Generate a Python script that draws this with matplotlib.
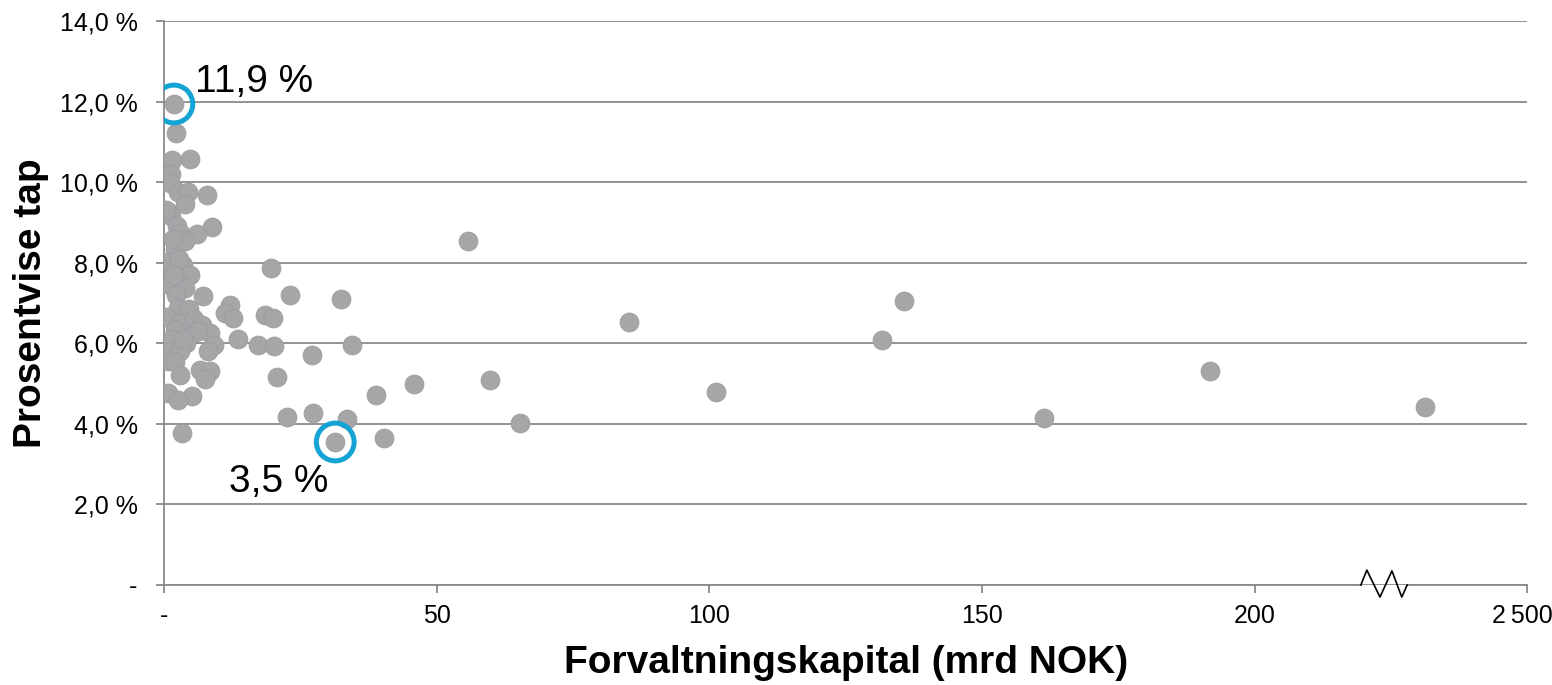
import numpy as np
import matplotlib
matplotlib.use('Agg')
import matplotlib.pyplot as plt
from matplotlib.transforms import ScaledTranslation

plt.rcParams['font.family'] = ['Liberation Sans', 'DejaVu Sans']

# forvaltningskapital (mrd NOK) and prosentvise tap (%)
kapital = [1.8, 2.2, 4.8, 0.5, 1.5, 1.2, 1.1, 2.6, 4.4, 7.9,
           3.9, 0.7, 1.3, 2.4, 3.0, 8.8, 6.1, 2.0, 3.8, 55.7,
           0.6, 3.5, 4.8, 19.6, 1.1, 3.9, 2.2, 7.2, 23.1, 32.5,
           135.7, 12.1, 2.6, 4.5, 11.2, 12.7, 18.5, 20.0, 85.3, 0.3,
           2.9, 5.5, 7.0, 5.7, 2.0, 8.4, 6.2, 1.4, 4.0, 9.2,
           8.1, 13.6, 131.7, 17.2, 20.2, 34.5, 27.1, 0.7, 3.0, 0.7,
           2.0, 6.6, 8.4, 191.8, 59.8, 7.5, 20.7, 2.9, 45.8, 0.7,
           5.1, 2.6, 101.2, 38.9, 231.2, 27.3, 22.6, 33.6, 161.4, 65.3,
           3.3, 40.3, 31.4, 0.4, 1.6, 2.8, 3.4, 1.9]
tap = [11.94, 11.22, 10.57, 10.42, 10.55, 10.2, 9.98, 9.75, 9.75, 9.68,
       9.45, 9.25, 9.15, 8.9, 8.75, 8.89, 8.72, 8.35, 8.55, 8.54,
       8.02, 7.95, 7.69, 7.87, 7.45, 7.37, 7.2, 7.18, 7.2, 7.1,
       7.05, 6.95, 6.88, 6.85, 6.75, 6.63, 6.7, 6.63, 6.53, 6.65,
       6.5, 6.6, 6.45, 6.28, 6.33, 6.25, 6.3, 6.1, 6.0, 5.97,
       5.8, 6.1, 6.08, 5.96, 5.93, 5.96, 5.71, 5.78, 5.8, 5.56,
       5.53, 5.34, 5.3, 5.31, 5.09, 5.11, 5.16, 5.21, 4.99, 4.77,
       4.68, 4.6, 4.79, 4.72, 4.42, 4.27, 4.17, 4.12, 4.14, 4.02,
       3.77, 3.65, 3.55, 9.3, 8.6, 8.1, 6.1, 7.7]

xticks = [0, 50, 100, 150, 200, 250]
xticklabels = ['-', '50', '100', '150', '200', '2\u2009500']
yticks = [0, 2, 4, 6, 8, 10, 12, 14]
yticklabels = ['-', '2,0 %', '4,0 %', '6,0 %', '8,0 %', '10,0 %', '12,0 %', '14,0 %']

axis_grey = '#8a8a8a'
dot_grey = '#a6a6a9'
ring_blue = '#14a3d4'

fig = plt.figure(figsize=(15.52, 6.85), dpi=100)
ax = fig.add_axes([0.1057, 0.146, 0.8783, 0.8233])

ax.scatter(kapital, tap, s=185, color=dot_grey, edgecolors='#9c9ca0',
           linewidths=0.6, zorder=3)

# highlight max and min
x = np.array(kapital)
y = np.array(tap)
imax, imin = np.argmax(y), np.argmin(y)
for i in [imax, imin]:
    ax.scatter(x[i], y[i], s=740, facecolors='none', edgecolors=ring_blue,
               linewidths=3.6, zorder=4)
ax.annotate(('%.1f %%' % y[imax]).replace('.', ','), (x[imax], y[imax]),
            xytext=(15, 16), textcoords='offset points', ha='left',
            va='center', fontsize=28)
ax.annotate(('%.1f %%' % y[imin]).replace('.', ','), (x[imin], y[imin]),
            xytext=(-41, -29), textcoords='offset points', ha='center',
            va='center', fontsize=28)

ax.set_xlim(0, 250)
ax.set_ylim(0, 14)
ax.set_xticks(xticks)
ax.set_xticklabels(xticklabels)
ax.set_yticks(yticks)
ax.set_yticklabels(yticklabels)
ax.tick_params(axis='both', colors=axis_grey, labelcolor='black',
               labelsize=18, length=6, width=1.3)
ax.tick_params(axis='x', pad=8)
ax.tick_params(axis='y', pad=13)

# nudge last x label so it stays inside the figure
last = ax.get_xticklabels()[-1]
last.set_transform(last.get_transform() + ScaledTranslation(-0.05, 0, fig.dpi_scale_trans))

ax.grid(axis='y', color=axis_grey, linewidth=1.3, zorder=0)
ax.set_axisbelow(True)
for s in ['top', 'right', 'bottom']:
    ax.spines[s].set_visible(False)
ax.spines['left'].set_color(axis_grey)
ax.spines['left'].set_linewidth(1.3)

# broken x axis with zigzag
brk0, brk1 = 219.5, 228.0
ax.plot([0, brk0], [0, 0], color=axis_grey, lw=1.3, clip_on=False, zorder=2)
ax.plot([brk1, 250], [0, 0], color=axis_grey, lw=1.3, clip_on=False, zorder=2)
ax.plot([219.5, 220.6, 223.0, 225.2, 227.0, 228.0],
        [0.0, 0.37, -0.30, 0.35, -0.30, 0.0],
        color='black', lw=1.2, clip_on=False, zorder=2)

ax.set_xlabel('Forvaltningskapital (mrd NOK)', fontsize=28, fontweight='bold',
              labelpad=12)
ax.set_ylabel('Prosentvise tap', fontsize=28, fontweight='bold', labelpad=8)

fig.savefig('out.png', dpi=100)
